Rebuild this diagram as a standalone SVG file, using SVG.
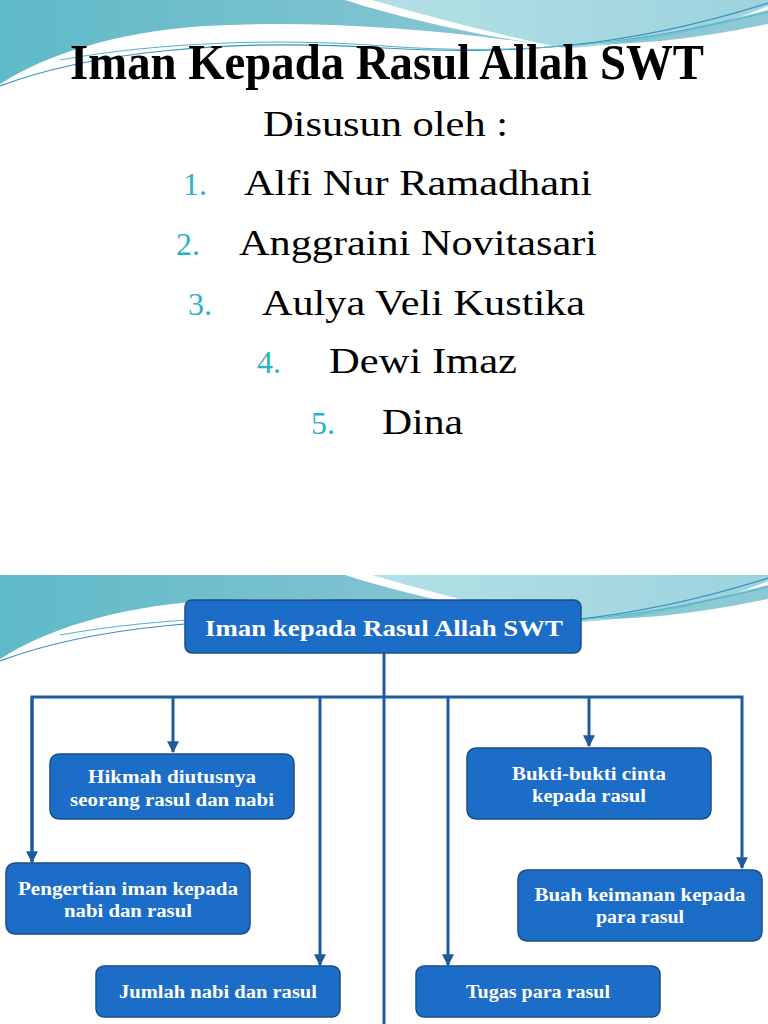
<svg xmlns="http://www.w3.org/2000/svg" width="768" height="1024" viewBox="0 0 768 1024">
<defs>
<linearGradient id="gL" x1="0" y1="0" x2="1" y2="0">
<stop offset="0" stop-color="#5fbac8"/><stop offset="1" stop-color="#8cc6d4"/>
</linearGradient>
<linearGradient id="gR" x1="0" y1="0" x2="1" y2="0">
<stop offset="0" stop-color="#b4e0e6"/><stop offset="1" stop-color="#9cd3de"/>
</linearGradient>
<marker id="arr" viewBox="0 0 10 10" refX="9" refY="5" markerWidth="4" markerHeight="4" orient="auto" markerUnits="strokeWidth">
<path d="M0,0 L10,5 L0,10 z" fill="#1f5b9c"/>
</marker>
<g id="wave">
<path d="M0,0 H345 C395,16 465,33 545,45 C430,28 310,20 205,26 C115,32 45,55 0,84 Z" fill="url(#gL)"/>
<path d="M372,0 H768 V6 C720,26 650,44 565,48 C520,40 440,20 372,0 Z" fill="url(#gR)"/>
<path d="M600,44 C660,36 720,22 768,10 V24 C720,34 660,44 600,44 Z" fill="#6fbccb" opacity="0.8"/>
<path d="M0,86 C90,52 230,38 384,48 C500,55 620,50 768,3" fill="none" stroke="#3d8fbf" stroke-width="1.2"/>
<path d="M60,60 C160,42 280,38 384,46 C520,56 640,44 768,12" fill="none" stroke="#4fb3c8" stroke-width="1"/>
</g>
</defs>
<style>
.t{font-family:'Liberation Serif','DejaVu Serif','Times New Roman',serif;fill:#000}
.n{font-family:'Liberation Serif','DejaVu Serif','Times New Roman',serif;fill:#2ab3c6;font-size:32px}
.box rect{fill:#1c6dc7;stroke:#1a4e86;stroke-width:1.5}
.box text{font-family:'Liberation Serif','DejaVu Serif','Times New Roman',serif;font-weight:bold;fill:#fff;font-size:18.5px;text-anchor:middle}
.conn path{fill:none;stroke:#1f5b9c;stroke-width:3}
</style>
<rect width="768" height="1024" fill="#fff"/>
<use href="#wave"/>
<use href="#wave" transform="translate(0,575)"/>

<g id="slide1-text">
<text class="t" x="70" y="79" font-size="50" font-weight="bold" textLength="634" lengthAdjust="spacingAndGlyphs">Iman Kepada Rasul Allah SWT</text>
<text class="t" x="263" y="136" font-size="35" textLength="245" lengthAdjust="spacingAndGlyphs">Disusun oleh :</text>
<text class="n" x="183" y="195">1.</text>
<text class="t" x="244" y="195" font-size="35" textLength="348" lengthAdjust="spacingAndGlyphs">Alfi Nur Ramadhani</text>
<text class="n" x="176" y="255">2.</text>
<text class="t" x="239" y="255" font-size="35" textLength="358" lengthAdjust="spacingAndGlyphs">Anggraini Novitasari</text>
<text class="n" x="188" y="315">3.</text>
<text class="t" x="262" y="315" font-size="35" textLength="323" lengthAdjust="spacingAndGlyphs">Aulya Veli Kustika</text>
<text class="n" x="257" y="373">4.</text>
<text class="t" x="329" y="373" font-size="35" textLength="188" lengthAdjust="spacingAndGlyphs">Dewi Imaz</text>
<text class="n" x="311" y="434">5.</text>
<text class="t" x="382" y="434" font-size="35" textLength="81" lengthAdjust="spacingAndGlyphs">Dina</text>
</g>

<g class="conn" id="connectors">
<path d="M384,653 V1024"/>
<path d="M32,862 V697 H742 V868" marker-end="url(#arr)"/>
<path d="M173,697 V752" marker-end="url(#arr)"/>
<path d="M320,697 V965" marker-end="url(#arr)"/>
<path d="M448,697 V965" marker-end="url(#arr)"/>
<path d="M589,697 V746" marker-end="url(#arr)"/>
<path d="M32,697 V862" marker-end="url(#arr)"/>
</g>

<g class="box" id="root">
<rect x="185" y="600" width="396" height="53" rx="7"/>
<text x="384" y="636" style="font-size:24px" textLength="358" lengthAdjust="spacingAndGlyphs">Iman kepada Rasul Allah SWT</text>
</g>
<g class="box" id="hikmah">
<rect x="50" y="754" width="244" height="65" rx="9"/>
<text x="172" y="783" textLength="168" lengthAdjust="spacingAndGlyphs">Hikmah diutusnya</text>
<text x="172" y="806" textLength="204" lengthAdjust="spacingAndGlyphs">seorang rasul dan nabi</text>
</g>
<g class="box" id="bukti">
<rect x="467" y="748" width="244" height="71" rx="9"/>
<text x="589" y="780" textLength="154" lengthAdjust="spacingAndGlyphs">Bukti-bukti cinta</text>
<text x="589" y="802" textLength="114" lengthAdjust="spacingAndGlyphs">kepada rasul</text>
</g>
<g class="box" id="pengertian">
<rect x="6" y="863" width="244" height="71" rx="9"/>
<text x="128" y="895" textLength="220" lengthAdjust="spacingAndGlyphs">Pengertian iman kepada</text>
<text x="128" y="917" textLength="128" lengthAdjust="spacingAndGlyphs">nabi dan rasul</text>
</g>
<g class="box" id="buah">
<rect x="518" y="870" width="244" height="71" rx="9"/>
<text x="640" y="901" textLength="211" lengthAdjust="spacingAndGlyphs">Buah keimanan kepada</text>
<text x="640" y="923" textLength="88" lengthAdjust="spacingAndGlyphs">para rasul</text>
</g>
<g class="box" id="jumlah">
<rect x="96" y="966" width="244" height="51" rx="8"/>
<text x="218" y="998" textLength="198" lengthAdjust="spacingAndGlyphs">Jumlah nabi dan rasul</text>
</g>
<g class="box" id="tugas">
<rect x="416" y="966" width="244" height="51" rx="8"/>
<text x="538" y="998" textLength="144" lengthAdjust="spacingAndGlyphs">Tugas para rasul</text>
</g>
</svg>
